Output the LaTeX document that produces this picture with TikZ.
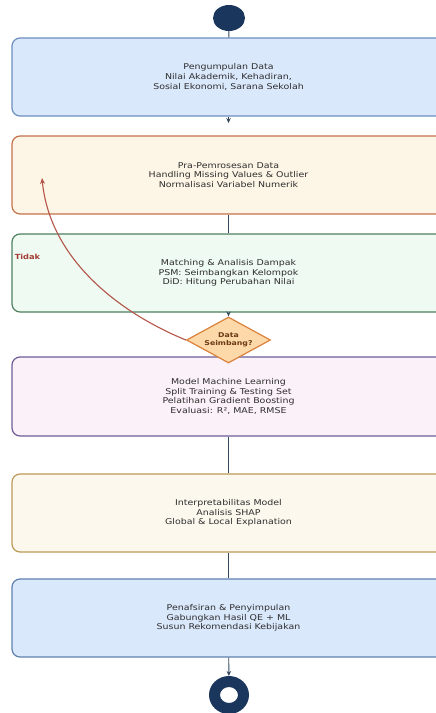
\documentclass[tikz,border=0pt]{standalone}
\usepackage{fontspec}
\setmainfont{DejaVu Sans}[FakeStretch=1.18]
\usetikzlibrary{shapes.geometric,arrows.meta}

\definecolor{navy}{HTML}{1B365D}
\definecolor{linkc}{HTML}{34495E}
\definecolor{txt}{HTML}{2E2E2E}
\definecolor{bluefill}{HTML}{DAE8FC}
\definecolor{bluedraw}{HTML}{6C8EBF}
\definecolor{creamfill}{HTML}{FDF5E6}
\definecolor{creamdraw}{HTML}{C4724A}
\definecolor{mintfill}{HTML}{EEFAF2}
\definecolor{mintdraw}{HTML}{4F7F5F}
\definecolor{pinkfill}{HTML}{FBF1F8}
\definecolor{pinkdraw}{HTML}{6D5C9A}
\definecolor{sandfill}{HTML}{FCF8EE}
\definecolor{sanddraw}{HTML}{BC9A55}
\definecolor{skyfill}{HTML}{DAE8FC}
\definecolor{skydraw}{HTML}{5E80AE}
\definecolor{decfill}{HTML}{FDD8A8}
\definecolor{decdraw}{HTML}{D9823B}
\definecolor{dectext}{HTML}{6B3A16}
\definecolor{loopc}{HTML}{B35548}
\definecolor{loopt}{HTML}{A33A33}

\begin{document}
\begin{tikzpicture}[x=1pt,y=-1pt,
  stepbox/.style={rectangle, rounded corners=8pt, minimum width=433pt,
    minimum height=78pt, line width=1.2pt, align=center, text=txt,
    inner sep=0pt, font=\fontsize{8}{9.7}\selectfont},
  link/.style={draw=linkc, line width=0.9pt},
  tiplink/.style={link, -{Stealth[length=5pt,width=4.5pt]}},
]
\useasboundingbox (0,0) rectangle (436,713);

% start marker
\node[ellipse, fill=navy, minimum width=32pt, minimum height=26pt, inner sep=0pt]
  (start) at (229,18) {};

% process steps
\node[stepbox, fill=bluefill, draw=bluedraw] (collect) at (228.5,77)
  {Pengumpulan Data\\Nilai Akademik, Kehadiran,\\Sosial Ekonomi, Sarana Sekolah};
\node[stepbox, fill=creamfill, draw=creamdraw] (prep) at (228.5,175)
  {Pra-Pemrosesan Data\\Handling Missing Values \& Outlier\\Normalisasi Variabel Numerik};
\node[stepbox, fill=mintfill, draw=mintdraw] (match) at (228.5,273)
  {Matching \& Analisis Dampak\\PSM: Seimbangkan Kelompok\\DiD: Hitung Perubahan Nilai};
\node[stepbox, fill=pinkfill, draw=pinkdraw, minimum height=79pt] (model) at (228.5,396.5)
  {Model Machine Learning\\Split Training \& Testing Set\\Pelatihan Gradient Boosting\\Evaluasi: R², MAE, RMSE};
\node[stepbox, fill=sandfill, draw=sanddraw] (interp) at (228.5,513)
  {Interpretabilitas Model\\Analisis SHAP\\Global \& Local Explanation};
\node[stepbox, fill=skyfill, draw=skydraw] (conclude) at (228.5,618)
  {Penafsiran \& Penyimpulan\\Gabungkan Hasil QE + ML\\Susun Rekomendasi Kebijakan};

% decision
\node[diamond, fill=decfill, draw=decdraw, line width=1.2pt, aspect=1.83,
  minimum width=84pt, minimum height=46pt, inner sep=0pt, align=center,
  text=dectext, font=\fontsize{6.6}{8.2}\selectfont\bfseries] (check) at (228.5,340)
  {Data\\Seimbang?};

% end marker: a thick navy ring
\node[ellipse, minimum width=40pt, minimum height=38pt, inner sep=0pt, outer sep=0pt]
  (stop) at (229,695) {};
\fill[navy, even odd rule]
  (stop.center) ellipse [x radius=20pt, y radius=19pt]
  (stop.center) ellipse [x radius=9pt, y radius=8pt];

% connectors
\coordinate (gap) at (228.5,123);
\coordinate (back) at (42,178);
\draw[link] (start) -- (collect);
\draw[tiplink] (collect) -- (gap);
\draw[link] (prep) -- (match);
\draw[tiplink] (match) -- (check);
\draw[link] (model) -- (interp);
\draw[link] (interp) -- (conclude);
\draw[tiplink] (conclude) -- (stop);

% loop back when groups are not balanced
\draw[draw=loopc, line width=1.1pt, -{Stealth[length=6pt,width=5pt]}]
  (check.west) .. controls (120,313) and (50,260) .. (back);
\node[text=loopt, font=\fontsize{7}{8}\selectfont\bfseries] (no) at (27.5,257) {Tidak};
\end{tikzpicture}
\end{document}
